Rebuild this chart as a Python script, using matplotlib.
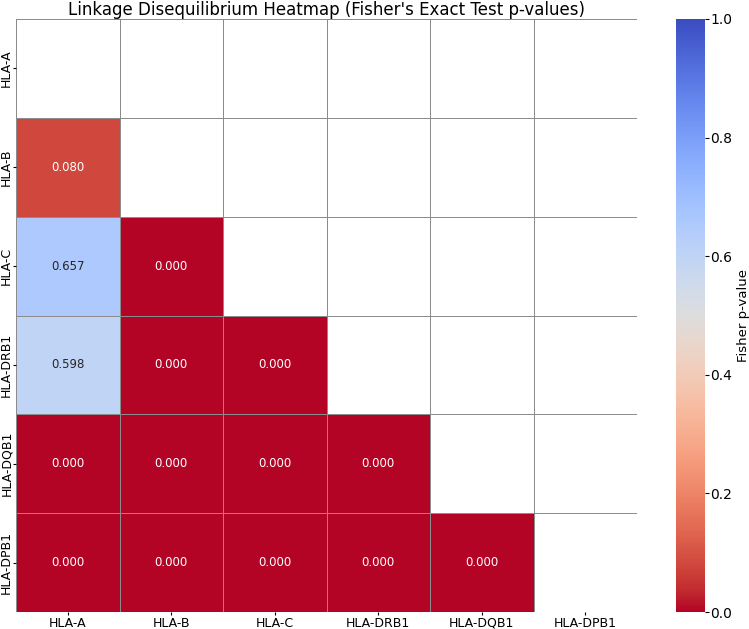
import numpy as np
import matplotlib
matplotlib.use("Agg")
import matplotlib.pyplot as plt
import seaborn as sns

loci = ["HLA-A", "HLA-B", "HLA-C", "HLA-DRB1", "HLA-DQB1", "HLA-DPB1"]
# lower-triangle p-values, row by row
row_b = [0.080]
row_c = [0.657, 0.000]
row_drb1 = [0.598, 0.000, 0.000]
row_dqb1 = [0.000, 0.000, 0.000, 0.000]
row_dpb1 = [0.000, 0.000, 0.000, 0.000, 0.000]
rows = [[], row_b, row_c, row_drb1, row_dqb1, row_dpb1]

n = len(loci)
mat = np.full((n, n), np.nan)
for i, r in enumerate(rows):
    for j, v in enumerate(r):
        mat[i, j] = v
mask = np.triu(np.ones((n, n), dtype=bool))

fig = plt.figure(figsize=(7.49, 6.29), dpi=100)
ax = fig.add_axes([16/749, 17/629, 621/749, 593/629])
cax = fig.add_axes([676/749, 17/629, 29/749, 593/629])
sns.heatmap(mat, mask=mask, annot=True, fmt=".3f", cmap="coolwarm_r", vmin=0, vmax=1,
            linewidths=0.6, linecolor="#8c8c8c", square=False, ax=ax, cbar_ax=cax,
            annot_kws={"fontsize": 8.5},
            xticklabels=loci, yticklabels=loci)
ax.set_title("Linkage Disequilibrium Heatmap (Fisher's Exact Test p-values)", fontsize=12, pad=3)
ax.tick_params(axis="x", labelsize=9, length=2.5, pad=0.8)
ax.tick_params(axis="y", labelsize=9, length=2, pad=0.3)
plt.setp(ax.get_yticklabels(), rotation=90, va="center")
cax.tick_params(labelsize=10, length=3, pad=1)
cax.set_ylabel("Fisher p-value", fontsize=9.5, labelpad=3)
fig.savefig("out.png", dpi=100)
